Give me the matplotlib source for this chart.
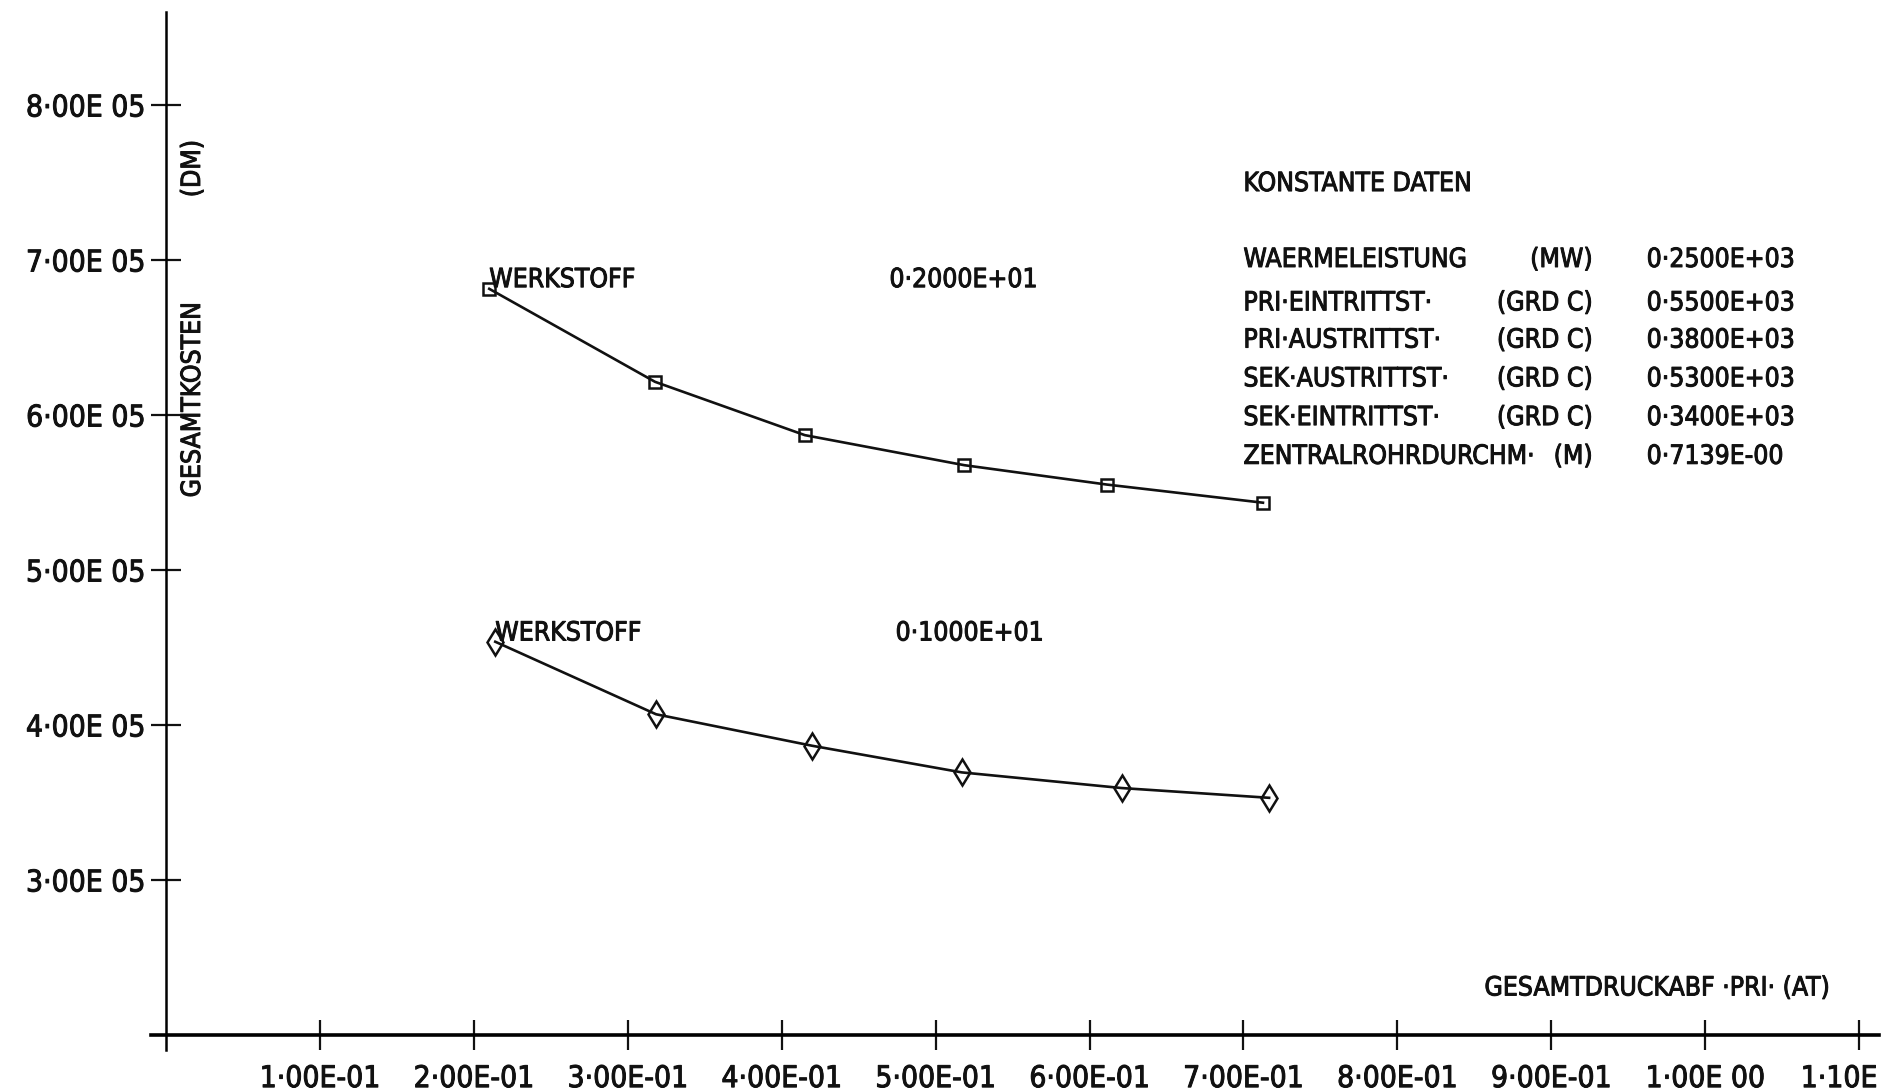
import numpy as np
import matplotlib.pyplot as plt
import matplotlib.patheffects as pe
from matplotlib.transforms import ScaledTranslation

plt.rcParams['font.family'] = 'DejaVu Sans'
plt.rcParams['font.stretch'] = 'condensed'

# Gesamtdruckabfall primaer (AT) und Gesamtkosten (DM) je Werkstoff
druck_w2 = [0.210, 0.3177, 0.415, 0.5187, 0.6113, 0.7127]
kosten_w2 = [6.814e5, 6.214e5, 5.870e5, 5.676e5, 5.551e5, 5.434e5]
druck_w1 = [0.2139, 0.3184, 0.4197, 0.517, 0.6209, 0.7167]
kosten_w1 = [4.537e5, 4.069e5, 3.866e5, 3.694e5, 3.593e5, 3.530e5]
werkstoff = ["0·2000E+01", "0·1000E+01"]

x_ticks = [0.1, 0.2, 0.3, 0.4, 0.5, 0.6, 0.7, 0.8, 0.9, 1.0, 1.1]
x_tick_labels = ["1·00E-01", "2·00E-01", "3·00E-01", "4·00E-01", "5·00E-01",
                 "6·00E-01", "7·00E-01", "8·00E-01", "9·00E-01", "1·00E 00", "1·10E"]
y_ticks = [3e5, 4e5, 5e5, 6e5, 7e5, 8e5]
y_tick_labels = ["3·00E 05", "4·00E 05", "5·00E 05", "6·00E 05", "7·00E 05", "8·00E 05"]

konst_namen = ["WAERMELEISTUNG", "PRI·EINTRITTST·", "PRI·AUSTRITTST·",
               "SEK·AUSTRITTST·", "SEK·EINTRITTST·", "ZENTRALROHRDURCHM·"]
konst_einheiten = ["(MW)", "(GRD C)", "(GRD C)", "(GRD C)", "(GRD C)", "(M)"]
konst_werte = ["0·2500E+03", "0·5500E+03", "0·3800E+03",
               "0·5300E+03", "0·3400E+03", "0·7139E-00"]

fs = 19
ink = '#111111'
pen = [pe.withStroke(linewidth=0.7, foreground=ink)]

fig = plt.figure(figsize=(18.95, 10.91), dpi=100)
ax = fig.add_axes([0.0797, 0.0376, 0.9119, 0.9514])
xmin, xmax = -0.00975, 1.113
ymin, ymax = 1.903e5, 8.6e5
ax.set_xlim(xmin, xmax)
ax.set_ylim(ymin, ymax)

ax.plot(druck_w2, kosten_w2, color=ink, lw=1.9, marker='s', ms=9,
        mfc='none', mec=ink, mew=1.8)
ax.plot(druck_w1, kosten_w1, color=ink, lw=1.9, marker='d', ms=13,
        mfc='none', mec=ink, mew=1.8)

# axes like the plotter output
for s in ['top', 'right']:
    ax.spines[s].set_visible(False)
ax.spines['left'].set_position(('data', 0))
ax.spines['bottom'].set_position(('data', 2e5))
ax.spines['left'].set_bounds(ymin, ymax)
ax.spines['bottom'].set_bounds(xmin, xmax)
ax.spines['left'].set_linewidth(1.8)
ax.spines['bottom'].set_linewidth(2.6)

ax.set_xticks(x_ticks)
ax.set_xticklabels(x_tick_labels)
ax.set_yticks(y_ticks)
ax.set_yticklabels(y_tick_labels)
ax.tick_params(direction='inout', length=22, width=1.6, labelsize=21.5,
               labelcolor=ink, color=ink)
ax.tick_params(axis='x', pad=10)
ax.tick_params(axis='y', pad=4)
for lab in ax.get_xticklabels() + ax.get_yticklabels():
    lab.set_path_effects(pen)
last = ax.get_xticklabels()[-1]
last.set_transform(last.get_transform() + ScaledTranslation(-0.2, 0, fig.dpi_scale_trans))


def schreib(x, y, s, **kw):
    kw.setdefault('ha', 'left')
    kw.setdefault('va', 'center')
    ax.text(x, y, s, fontsize=fs, color=ink, path_effects=pen, **kw)


schreib(0.0175, 6.10e5, "GESAMTKOSTEN", rotation=90, ha='center')
schreib(0.0175, 7.59e5, "(DM)", rotation=90, ha='center')
schreib(0.8566, 2.30e5, "GESAMTDRUCKABF ·PRI· (AT)")

schreib(0.210, 6.87e5, "WERKSTOFF")
schreib(0.470, 6.87e5, werkstoff[0])
schreib(0.2139, 4.59e5, "WERKSTOFF")
schreib(0.474, 4.59e5, werkstoff[1])

schreib(0.700, 7.49e5, "KONSTANTE DATEN")
zeilen_y = [7.00e5, 6.72e5, 6.48e5, 6.23e5, 5.98e5, 5.73e5]
for yy, n, e, w in zip(zeilen_y, konst_namen, konst_einheiten, konst_werte):
    schreib(0.700, yy, n)
    schreib(0.927, yy, e, ha='right')
    schreib(0.962, yy, w)

fig.savefig('out.png', dpi=100)
